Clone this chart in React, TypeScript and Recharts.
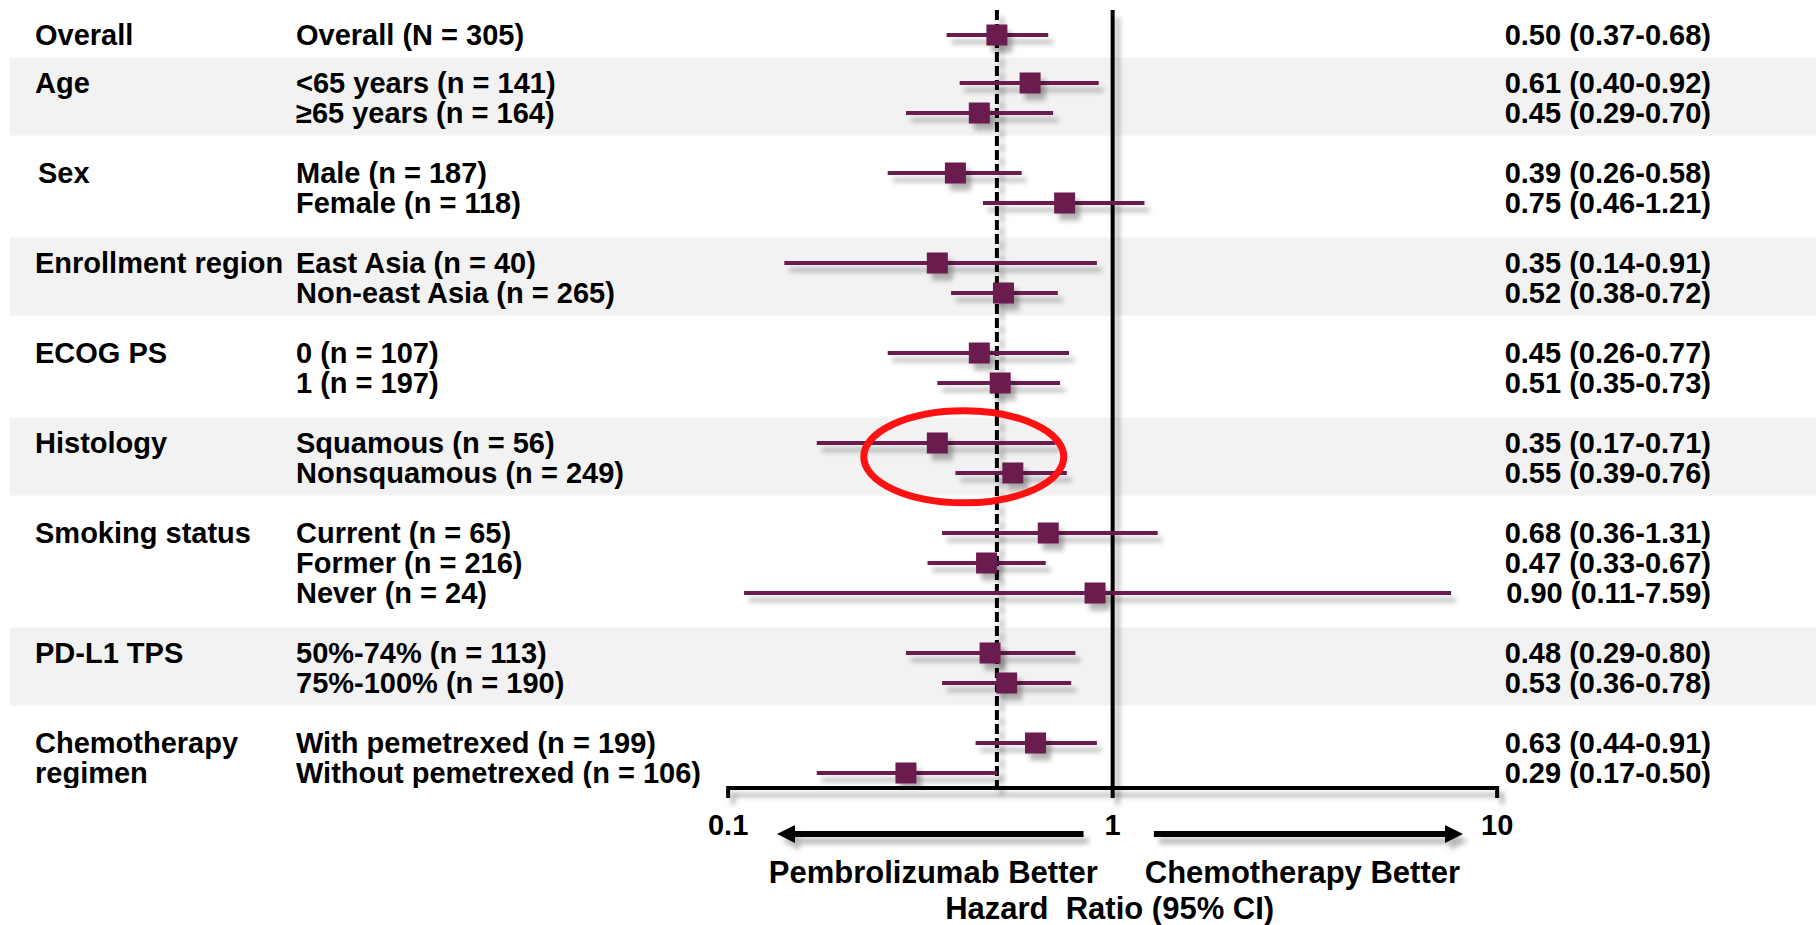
import React from "react";
import {
  ComposedChart,
  Scatter,
  ErrorBar,
  XAxis,
  YAxis,
  ReferenceLine,
  ReferenceArea,
  ReferenceDot,
} from "recharts";

// group labels (multi-line where the label wraps) and how many subgroups each holds
const groupNames: string[][] = [
  ["Overall"],
  ["Age"],
  ["Sex"],
  ["Enrollment region"],
  ["ECOG PS"],
  ["Histology"],
  ["Smoking status"],
  ["PD-L1 TPS"],
  ["Chemotherapy", "regimen"],
];
const groupSizes = [1, 2, 2, 2, 2, 2, 3, 2, 2];

const subgroups = [
  "Overall (N = 305)",
  "<65 years (n = 141)",
  "≥65 years (n = 164)",
  "Male (n = 187)",
  "Female (n = 118)",
  "East Asia (n = 40)",
  "Non-east Asia (n = 265)",
  "0 (n = 107)",
  "1 (n = 197)",
  "Squamous (n = 56)",
  "Nonsquamous (n = 249)",
  "Current (n = 65)",
  "Former (n = 216)",
  "Never (n = 24)",
  "50%-74% (n = 113)",
  "75%-100% (n = 190)",
  "With pemetrexed (n = 199)",
  "Without pemetrexed (n = 106)",
];

const hr = [0.5, 0.61, 0.45, 0.39, 0.75, 0.35, 0.52, 0.45, 0.51, 0.35, 0.55, 0.68, 0.47, 0.9, 0.48, 0.53, 0.63, 0.29];
const ciLow = [0.37, 0.4, 0.29, 0.26, 0.46, 0.14, 0.38, 0.26, 0.35, 0.17, 0.39, 0.36, 0.33, 0.11, 0.29, 0.36, 0.44, 0.17];
const ciHigh = [0.68, 0.92, 0.7, 0.58, 1.21, 0.91, 0.72, 0.77, 0.73, 0.71, 0.76, 1.31, 0.67, 7.59, 0.8, 0.78, 0.91, 0.5];

const xTicks = [0.1, 1, 10];
const overallHr = 0.5;
const shadedGroups = [1, 3, 5, 7];
const highlightGroup = 5; // Histology, circled
const highlightX = 0.41;

// layout
const W = 1816;
const H = 925;
const AXIS_H = 137;
const X_DOMAIN: [number, number] = [0.001277, 67.5];
const BAND_X0 = 0.001355;
const Y_DOMAIN: [number, number] = [-1.1667, 25.1];
const LINE_TOP = -0.833;
const ARROW_Y = 26.63;
const arrowLeft = [0.134, 0.84];
const arrowRight = [1.28, 8.15];
const SQ = 21;

const PURPLE = "#6b1d4f";
const FONT = "'Liberation Sans', Arial, Helvetica, sans-serif";

// row positions: one unit per row, extra space between groups
type Row = { label: string; y: number; group: number; idx: number; x: number; err: [number, number]; text: string };
const rows: Row[] = [];
let pos = 0;
let k = 0;
groupSizes.forEach((n, g) => {
  if (g > 0) pos += g === 1 ? 1.6 : 2;
  for (let j = 0; j < n; j++) {
    rows.push({
      label: subgroups[k],
      y: pos + j,
      group: g,
      idx: j,
      x: hr[k],
      err: [hr[k] - ciLow[k], ciHigh[k] - hr[k]],
      text: `${hr[k].toFixed(2)} (${ciLow[k].toFixed(2)}-${ciHigh[k].toFixed(2)})`,
    });
    k++;
  }
  pos += n - 1;
});

const groupRange = (g: number) => {
  const r = rows.filter((d) => d.group === g);
  return [r[0].y, r[r.length - 1].y];
};

const textStyle = { fontFamily: FONT, fontWeight: 700, fill: "#000" } as const;

// text columns for a row, placed at the row's y from the scale
const RowLabels = (props: any) => {
  const { cy, payload } = props;
  const row: Row = payload;
  const cat = groupNames[row.group][row.idx];
  return (
    <g>
      {cat && (
        <text x={row.group === 2 ? 38 : 35} y={cy} dy="0.35em" fontSize={29} {...textStyle}>
          {cat}
        </text>
      )}
      <text x={296} y={cy} dy="0.35em" fontSize={29} {...textStyle}>
        {row.label}
      </text>
      <text x={1711} y={cy} dy="0.35em" fontSize={29} textAnchor="end" {...textStyle}>
        {row.text}
      </text>
    </g>
  );
};

const HrTick = (props: any) => {
  const { x, y, payload } = props;
  return (
    <g>
      <line x1={x} x2={x} y1={y - 2} y2={y + 10} stroke="#000" strokeWidth={4} filter="url(#sh)" />
      <text x={x} y={y + 37} dy="0.35em" fontSize={29} textAnchor="middle" {...textStyle}>
        {payload.value}
      </text>
      {payload.value === 1 && (
        <text x={x - 3} y={y + 120} dy="0.35em" fontSize={31} textAnchor="middle" {...textStyle} style={{ whiteSpace: "pre" }}>
          {"Hazard  Ratio (95% CI)"}
        </text>
      )}
    </g>
  );
};

const Arrow = (label: string, pointLeft: boolean) => (p: any) => {
  const { x1, x2, y1 } = p;
  const left = Math.min(x1, x2);
  const right = Math.max(x1, x2);
  const head = 18;
  const tip = pointLeft ? left : right;
  const base = pointLeft ? left + head : right - head;
  return (
    <g>
      <g filter="url(#sh)">
        <line
          x1={pointLeft ? base : left}
          x2={pointLeft ? right : base}
          y1={y1}
          y2={y1}
          stroke="#000"
          strokeWidth={6}
        />
        <polygon points={`${tip},${y1} ${base},${y1 - 9} ${base},${y1 + 9}`} fill="#000" />
      </g>
      <text x={(left + right) / 2 + (pointLeft ? 3 : -6)} y={y1 + 38} dy="0.35em" fontSize={31} textAnchor="middle" {...textStyle}>
        {label}
      </text>
    </g>
  );
};

const Square = (p: any) => (
  <rect x={p.cx - SQ / 2} y={p.cy - SQ / 2} width={SQ} height={SQ} fill={PURPLE} filter="url(#sh)" />
);

const [hy0, hy1] = groupRange(highlightGroup);

export default function App() {
  return (
    <div style={{ position: "absolute", left: 0, top: 0, width: W, height: H, background: "#fff" }}>
      <ComposedChart width={W} height={H} data={rows} margin={{ top: 0, right: 0, bottom: 0, left: 0 }}>
        <defs>
          <filter id="sh" filterUnits="userSpaceOnUse" x={0} y={0} width={W} height={H}>
            <feDropShadow dx={5} dy={7} stdDeviation={2.5} floodColor="#000" floodOpacity={0.28} />
          </filter>
        </defs>
        {shadedGroups.map((g) => {
          const [a, b] = groupRange(g);
          return (
            <ReferenceArea
              key={g}
              x1={BAND_X0}
              y1={a - 0.85}
              y2={b + 0.75}
              fill="#f2f2f2"
              fillOpacity={1}
              stroke="none"
              ifOverflow="visible"
            />
          );
        })}
        <XAxis
          dataKey="x"
          type="number"
          scale="log"
          domain={X_DOMAIN}
          allowDataOverflow
          ticks={xTicks}
          interval={0}
          axisLine={false}
          tickLine={false}
          tickSize={0}
          tickMargin={0}
          height={AXIS_H}
          tick={<HrTick />}
        />
        <YAxis dataKey="y" type="number" domain={Y_DOMAIN} allowDataOverflow reversed hide width={0} />
        <ReferenceLine
          segment={[{ x: overallHr, y: LINE_TOP }, { x: overallHr, y: Y_DOMAIN[1] }]}
          stroke="#000"
          strokeWidth={4}
          strokeDasharray="10 4"
          filter="url(#sh)"
        />
        <ReferenceLine
          segment={[{ x: 1, y: LINE_TOP }, { x: 1, y: Y_DOMAIN[1] }]}
          stroke="#000"
          strokeWidth={4}
          filter="url(#sh)"
        />
        <ReferenceLine
          segment={[{ x: xTicks[0], y: Y_DOMAIN[1] }, { x: xTicks[2], y: Y_DOMAIN[1] }]}
          stroke="#000"
          strokeWidth={4}
          filter="url(#sh)"
          ifOverflow="visible"
        />
        <Scatter data={rows} dataKey="x" shape={<RowLabels />} isAnimationActive={false} />
        <Scatter data={rows} dataKey="x" shape={<Square />} isAnimationActive={false}>
          <ErrorBar dataKey="err" direction="x" width={0} stroke={PURPLE} strokeWidth={4} filter="url(#sh)" isAnimationActive={false} />
        </Scatter>
        <ReferenceDot
          x={highlightX}
          y={(hy0 + hy1) / 2 - 0.04}
          r={1}
          ifOverflow="visible"
          shape={(p: any) => (
            <ellipse cx={p.cx} cy={p.cy} rx={100} ry={46} fill="none" stroke="#ff1111" strokeWidth={7} />
          )}
        />
        <ReferenceLine
          segment={[{ x: arrowLeft[0], y: ARROW_Y }, { x: arrowLeft[1], y: ARROW_Y }]}
          ifOverflow="visible"
          shape={Arrow("Pembrolizumab Better", true)}
        />
        <ReferenceLine
          segment={[{ x: arrowRight[0], y: ARROW_Y }, { x: arrowRight[1], y: ARROW_Y }]}
          ifOverflow="visible"
          shape={Arrow("Chemotherapy Better", false)}
        />
      </ComposedChart>
    </div>
  );
}
